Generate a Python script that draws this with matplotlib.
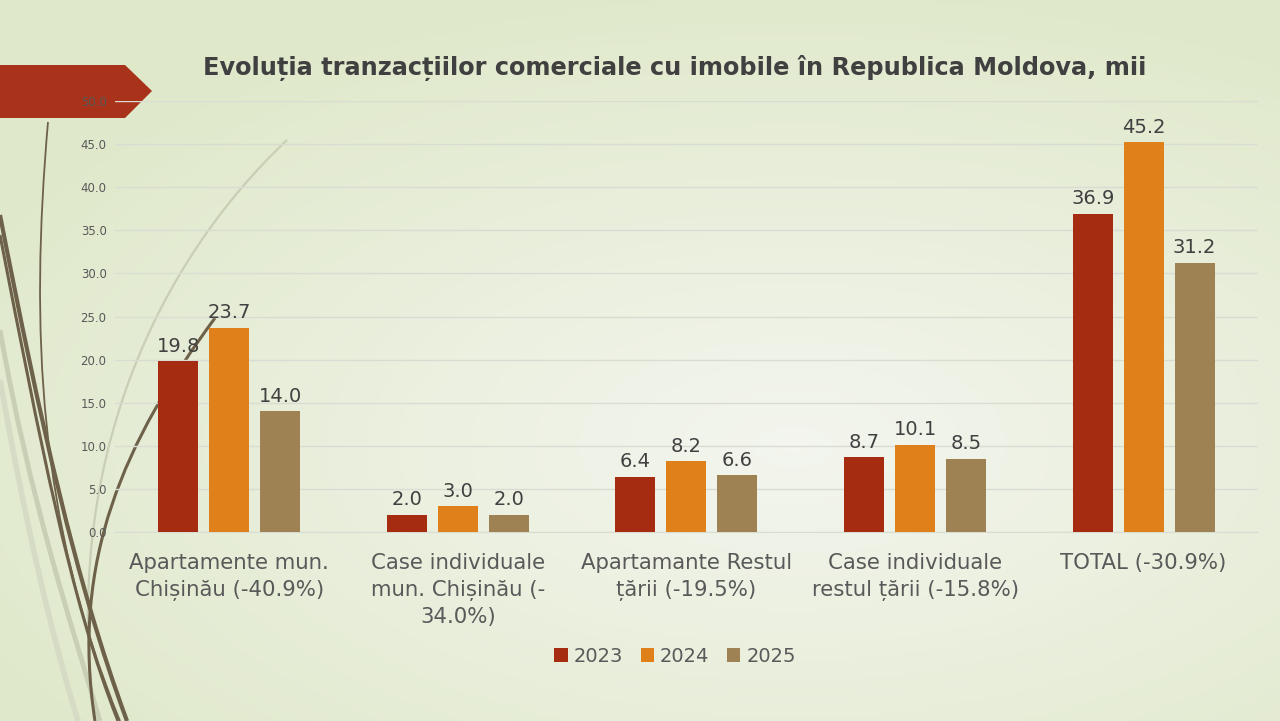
import numpy as np
import matplotlib.pyplot as plt
from matplotlib.path import Path
from matplotlib.patches import PathPatch, Polygon

categories = ['Apartamente mun.\nChișinău (-40.9%)',
              'Case individuale\nmun. Chișinău (-\n34.0%)',
              'Apartamante Restul\nțării (-19.5%)',
              'Case individuale\nrestul țării (-15.8%)',
              'TOTAL (-30.9%)']
years = ['2023', '2024', '2025']
v2023 = [19.8, 2.0, 6.4, 8.7, 36.9]
v2024 = [23.7, 3.0, 8.2, 10.1, 45.2]
v2025 = [14.0, 2.0, 6.6, 8.5, 31.2]
colors = ['#A52C10', '#E0801B', '#9F8253']

txt = '#595959'

fig = plt.figure(figsize=(12.8, 7.21), dpi=100)

# background gradient + decorations
bg = fig.add_axes([0, 0, 1, 1], zorder=-10)
xx, yy = np.meshgrid(np.linspace(0, 1, 256), np.linspace(0, 1, 145))
d = np.sqrt(((xx - 0.62) / 1.0) ** 2 + ((yy - 0.62) / 0.9) ** 2)
d = np.clip(d / 0.75, 0, 1)
c_in = np.array([0.955, 0.963, 0.935])
c_out = np.array([0.875, 0.910, 0.790])
img = c_in[None, None, :] * (1 - d[..., None]) + c_out[None, None, :] * d[..., None]
bg.imshow(img, extent=[0, 1280, 721, 0], aspect='auto')
bg.set_xlim(0, 1280)
bg.set_ylim(721, 0)
bg.axis('off')


def curve(pts, color, lw):
    codes = [Path.MOVETO] + [Path.CURVE4] * (len(pts) - 1)
    bg.add_patch(PathPatch(Path(pts, codes), fill=False, ec=color, lw=lw))


light = '#C9CFB5'
dark = '#6E6149'
curve([(287, 140), (160, 260), (60, 460), (95, 721)], light, 1.6)
curve([(0, 330), (30, 500), (70, 620), (100, 721)], light, 3.5)
curve([(0, 380), (25, 520), (50, 630), (78, 721)], '#D6DBC5', 4)
curve([(48, 122), (30, 330), (38, 520), (120, 721)], dark, 1.3)
curve([(0, 215), (40, 420), (75, 580), (127, 721)], dark, 3.0)
curve([(0, 235), (40, 440), (70, 600), (118, 721)], dark, 2.2)
curve([(95, 721), (70, 560), (125, 440), (215, 318)], dark, 2.2)

bg.add_patch(Polygon([(0, 65), (125, 65), (152, 91), (125, 118), (0, 118)],
                     closed=True, fc='#A8321A', ec='none'))

ax = fig.add_axes([0.0898, 0.262, 0.893, 0.598])
ax.patch.set_alpha(0)

x = np.arange(len(categories))
w = 0.175
step = 0.223
for i, (vals, col) in enumerate(zip([v2023, v2024, v2025], colors)):
    bars = ax.bar(x + (i - 1) * step, vals, width=w, color=col, label=years[i], zorder=3)
    ax.bar_label(bars, labels=[f'{v:.1f}' for v in vals], padding=4,
                 fontsize=14, color='#404040')

ax.set_xlim(-0.5, len(categories) - 0.5)
ax.set_ylim(0, 50)
ax.set_yticks(np.arange(0, 50.1, 5))
ax.set_yticklabels([f'{t:.1f}' for t in np.arange(0, 50.1, 5)], fontsize=8.5, color=txt)
ax.set_xticks(x)
ax.set_xticklabels(categories, fontsize=15.3, color=txt, linespacing=1.42, va='top')
ax.tick_params(axis='both', length=0)
ax.tick_params(axis='x', pad=15)
ax.tick_params(axis='y', pad=6)
ax.grid(axis='y', color='#D9DCD3', lw=1, zorder=0)
for s in ['top', 'right', 'left']:
    ax.spines[s].set_visible(False)
ax.spines['bottom'].set_color('#D9DCD3')

leg = ax.legend(loc='upper center', bbox_to_anchor=(0.49, -0.225), ncol=3, frameon=False,
                fontsize=14, handlelength=0.7, handleheight=0.7, handletextpad=0.3,
                columnspacing=0.9)
for t in leg.get_texts():
    t.set_color(txt)

fig.text(0.527, 0.905, 'Evoluția tranzacțiilor comerciale cu imobile în Republica Moldova, mii',
         ha='center', va='center', fontsize=17.3, fontweight='bold', color='#404040')

fig.savefig('out.png', dpi=100)
